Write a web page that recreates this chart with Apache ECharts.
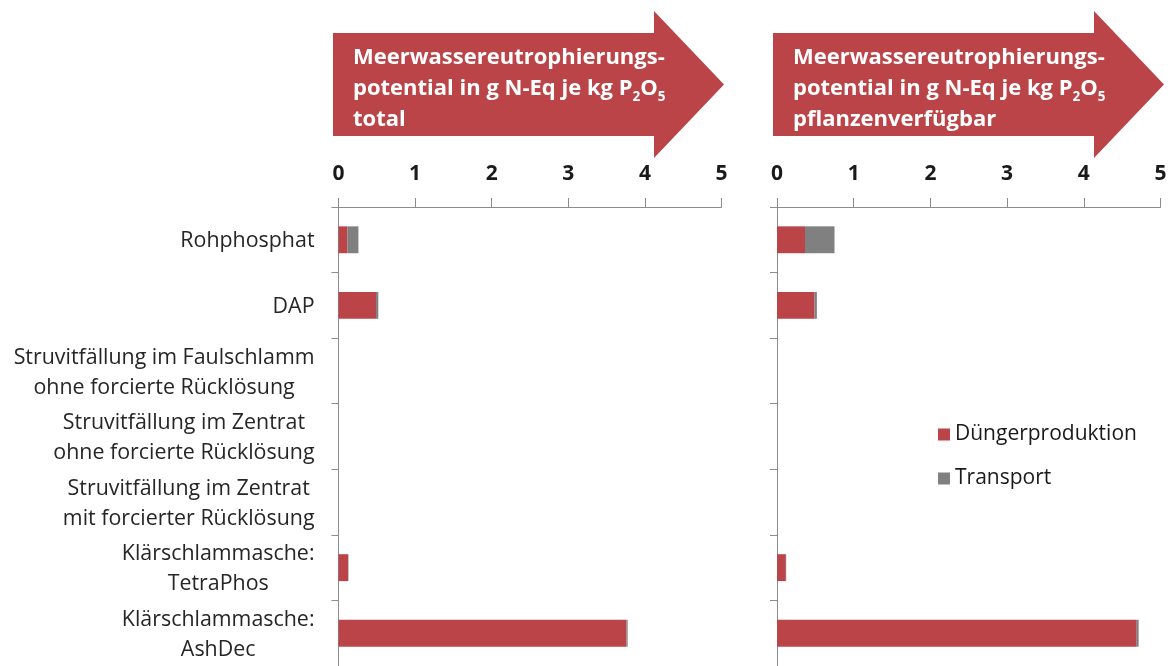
<!DOCTYPE html>
<html>
<head>
<meta charset="utf-8">
<script src="https://cdn.jsdelivr.net/npm/echarts@6/dist/echarts.min.js"></script>
<style>
  html, body { margin: 0; padding: 0; background: #fff; }
  #chart { width: 1174px; height: 666px; }
</style>
</head>
<body>
<div id="chart"></div>
<script>
// Verfahren (Kategorien), von oben nach unten
const categories = [
  'Rohphosphat',
  'DAP',
  'Struvitfällung im Faulschlamm\nohne forcierte Rücklösung',
  'Struvitfällung im Zentrat\nohne forcierte Rücklösung',
  'Struvitfällung im Zentrat\nmit forcierter Rücklösung',
  'Klärschlammasche:\nTetraPhos',
  'Klärschlammasche:\nAshDec'
];

// Meerwassereutrophierungspotential je kg P2O5 total (g N-Eq)
const totalDuenger   = [0.115, 0.49, 0, 0, 0, 0.125, 3.76];
const totalTransport = [0.145, 0.03, 0, 0, 0, 0.005, 0.015];

// Meerwassereutrophierungspotential je kg P2O5 pflanzenverfügbar (g N-Eq)
const pflanzeDuenger   = [0.365, 0.49, 0, 0, 0, 0.115, 4.69];
const pflanzeTransport = [0.385, 0.03, 0, 0, 0, 0.005, 0.025];

const seriesNames = ['Düngerproduktion', 'Transport'];
const axisMin = 0, axisMax = 5, axisStep = 1;

const FONT = '"Open Sans", Lato, sans-serif';
const RED = '#BA4447';
const GREY = '#808080';
const AXIS = '#8c8c8c';

function valueAxis(gridIndex) {
  return {
    type: 'value', gridIndex, position: 'top',
    min: axisMin, max: axisMax, interval: axisStep,
    axisLine: { show: true, lineStyle: { color: AXIS, width: 1 } },
    axisTick: { show: true, length: 9, lineStyle: { color: AXIS } },
    splitLine: { show: false },
    axisLabel: { margin: 22, fontSize: 21, fontWeight: 'bold', color: '#1a1a1a', fontFamily: FONT }
  };
}

function categoryAxis(gridIndex, showLabels) {
  return {
    type: 'category', gridIndex, data: categories, inverse: true,
    axisLine: { show: true, lineStyle: { color: AXIS, width: 1 } },
    axisTick: { show: true, length: 7, lineStyle: { color: AXIS } },
    axisLabel: {
      show: showLabels, margin: 24, color: '#262626',
      formatter: v => v.split('\n').map(l => '{c|' + l + '}').join('\n'),
      rich: { c: { align: 'center', fontSize: 21.4, lineHeight: 30, fontFamily: FONT, color: '#262626', padding: [3, 0, 0, 0] } }
    }
  };
}

function header(x0, text3) {
  const bodyTop = 33, bodyBot = 136, neck = x0 + 321, tip = x0 + 391;
  const mid = (bodyTop + bodyBot) / 2;
  return [
    {
      type: 'polygon',
      shape: { points: [[x0, bodyTop], [neck, bodyTop], [neck, 11], [tip, mid], [neck, 158], [neck, bodyBot], [x0, bodyBot]] },
      style: { fill: RED }
    },
    {
      type: 'text', x: x0 + 20, y: 42,
      style: {
        text: '{b|Meerwassereutrophierungs-}\n{b|potential in g N-Eq je kg P}{s|2}{b|O}{s|5}\n{b|' + text3 + '}',
        rich: {
          b: { fontSize: 22, fontWeight: 'bold', fill: '#fff', lineHeight: 31, fontFamily: FONT },
          s: { fontSize: 13.5, fontWeight: 'bold', fill: '#fff', lineHeight: 17, verticalAlign: 'bottom', fontFamily: FONT }
        }
      }
    }
  ];
}

function bars(xi, data, name, color) {
  return {
    type: 'bar', name, stack: 's' + xi, xAxisIndex: xi, yAxisIndex: xi,
    data, barCategoryGap: '59%',
    itemStyle: { color }
  };
}

const chart = echarts.init(document.getElementById('chart'), null, { renderer: 'canvas' });
chart.setOption({
  animation: false,
  backgroundColor: '#ffffff',
  textStyle: { fontFamily: FONT },
  grid: [
    { left: 338.5, width: 383, top: 207, height: 466 },
    { left: 777, width: 383.5, top: 207, height: 466 }
  ],
  xAxis: [valueAxis(0), valueAxis(1)],
  yAxis: [categoryAxis(0, true), categoryAxis(1, false)],
  legend: {
    orient: 'vertical', left: 933, top: 419,
    itemWidth: 12, itemHeight: 12, itemGap: 23,
    icon: 'rect',
    textStyle: { fontSize: 21, color: '#1a1a1a', fontFamily: FONT, padding: [0, 0, 0, 0] },
    data: seriesNames
  },
  series: [
    bars(0, totalDuenger, seriesNames[0], RED),
    bars(0, totalTransport, seriesNames[1], GREY),
    bars(1, pflanzeDuenger, seriesNames[0], RED),
    bars(1, pflanzeTransport, seriesNames[1], GREY)
  ],
  graphic: [...header(333, 'total'), ...header(773, 'pflanzenverfügbar')]
});
</script>
</body>
</html>
